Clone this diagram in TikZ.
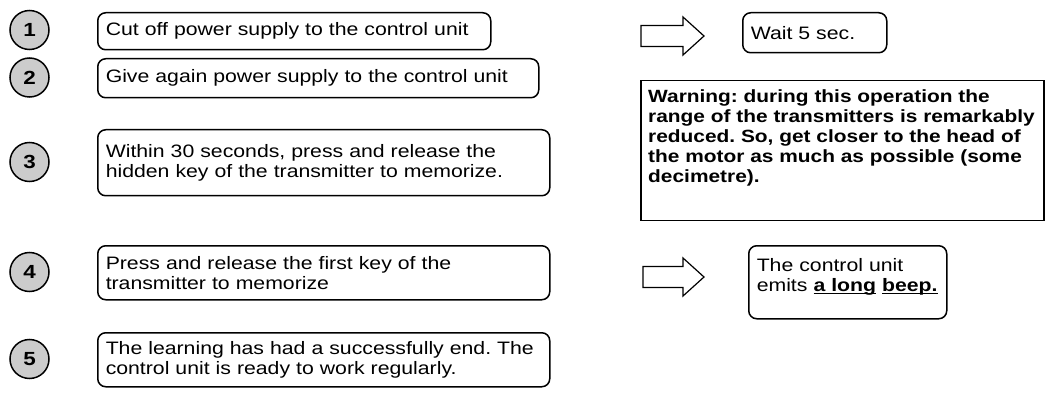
\documentclass[tikz,border=0pt]{standalone}
\usepackage{fontspec}
\setmainfont{Liberation Sans}[FakeStretch=1.18]
\frenchspacing
\newsavebox\ulbox
% bold underline with a heavier rule than \underline
\newcommand\thickul[1]{\sbox\ulbox{#1}\rlap{\rule[-3pt]{\wd\ulbox}{1.6pt}}\usebox\ulbox}
\definecolor{stepgray}{HTML}{CCCCCC}
\begin{document}
\begin{tikzpicture}[x=1pt,y=-1pt,
  every node/.style={font=\fontsize{18}{20}\selectfont},
  numdisc/.style={circle,draw=black,line width=1.5pt,fill=stepgray,minimum size=39pt,inner sep=0pt,font=\fontsize{19}{20}\selectfont\bfseries},
  stepbox/.style={draw=black,line width=1.5pt,rounded corners=8pt,anchor=north west,align=left,inner xsep=8pt,inner ysep=0pt},
  notebox/.style={draw=black,line width=1.5pt,anchor=north west,inner sep=0pt},
  notetext/.style={anchor=north west,align=left,inner sep=0pt,font=\fontsize{17.7}{20}\selectfont\bfseries},
  arrowshape/.style={draw=black,line width=1.2pt,line join=miter,fill=white}]
\useasboundingbox (0,0) rectangle (1060,414);

% step boxes
\node[stepbox,text width=377pt,minimum height=37pt] (s1) at (97,12) {Cut off power supply to the control unit};
\node[stepbox,text width=425pt,minimum height=39pt] (s2) at (97,58) {Give again power supply to the control unit};
\node[stepbox,text width=436pt,minimum height=66pt] (s3) at (97,129) {Within 30 seconds, press and release the\\hidden key of the transmitter to memorize.};
\node[stepbox,text width=436pt,minimum height=54pt] (s4) at (97,245) {Press and release the first key of the\\transmitter to memorize};
\node[stepbox,text width=436pt,minimum height=54pt] (s5) at (97,332) {The learning has had a successfully end. The\\control unit is ready to work regularly.};

% numbered discs beside the steps
\node[numdisc] (n1) at (29.5,30) {1};
\node[numdisc] (n2) at (29.5,77.5) {2};
\node[numdisc] (n3) at (29.5,162) {3};
\node[numdisc] (n4) at (29.5,272) {4};
\node[numdisc] (n5) at (29.5,359) {5};

% results on the right
\node[stepbox,text width=128pt,minimum height=40pt] (w1) at (742,12) {Wait 5 sec.};
\node[notebox,minimum width=403pt,minimum height=140pt] (warn) at (640,80) {};
\node[notetext] (warntext) at ([xshift=8pt,yshift=-9pt]warn.north west) {Warning: during this operation the\\range of the transmitters is remarkably\\reduced. So, get closer to the head of\\the motor as much as possible (some\\decimetre).};
% the strut deepens the last line so the two lines sit high in the box
\node[stepbox,text width=182pt,minimum height=73pt] (beep) at (748,245) {The control unit\\emits \textbf{\thickul{a long}} \textbf{\thickul{beep.}}\rule[-15pt]{0pt}{15pt}};

% block arrows
\draw[arrowshape] (641,25.5) -- (683,25.5) -- (683,17) -- (704,36) -- (683,55) -- (683,46.5) -- (641,46.5) -- cycle;
\draw[arrowshape] (643,266.5) -- (683,266.5) -- (683,258) -- (704,277) -- (683,296) -- (683,287.5) -- (643,287.5) -- cycle;
\end{tikzpicture}
\end{document}
